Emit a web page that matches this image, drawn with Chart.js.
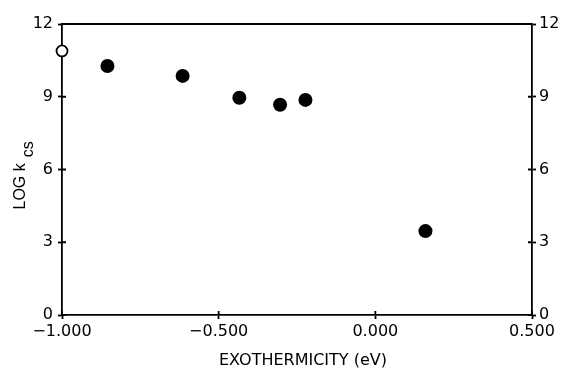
<!DOCTYPE html>
<html>
<head>
<meta charset="utf-8">
<script src="https://cdn.jsdelivr.net/npm/chart.js@4.4.0/dist/chart.umd.min.js"></script>
<style>
    html, body { margin: 0; padding: 0; background: #fff; }
    #wrap { width: 562px; height: 372px; }
</style>
</head>
<body>
<div id="wrap"><canvas id="chart"></canvas></div>
<script>
// log k_cs vs exothermicity (eV)
const filledX = [-0.855, -0.615, -0.434, -0.304, -0.223, 0.160];
const filledY = [10.27, 9.86, 8.96, 8.67, 8.87, 3.46];
const openX = [-1.000];
const openY = [10.89];

const xTickValues = [-1.0, -0.5, 0.0, 0.5];
const xTickLabels = ['\u22121.000', '\u22120.500', '0.000', '0.500'];
const yTickValues = [0, 3, 6, 9, 12];
const yTickLabels = ['0', '3', '6', '9', '12'];

const xTitle = 'EXOTHERMICITY (eV)';

const tickFont = { family: "'DejaVu Sans', sans-serif", size: 16 };
const tickLen = 4;
const axisWidth = 1.8;

const toPoints = (xs, ys) => xs.map((x, i) => ({ x: x, y: ys[i] }));

// frame on top + inward half of the crossing ticks
const framePlugin = {
    id: 'frame',
    beforeDatasetsDraw(chart) {
        const { ctx, chartArea: a, scales } = chart;
        ctx.save();
        ctx.strokeStyle = '#000';
        ctx.lineWidth = axisWidth;
        ctx.beginPath();
        ctx.moveTo(a.left, a.top);
        ctx.lineTo(a.right, a.top);
        scales.x.ticks.forEach(t => {
            const px = scales.x.getPixelForValue(t.value);
            ctx.moveTo(px, a.bottom);
            ctx.lineTo(px, a.bottom - tickLen);
        });
        scales.y.ticks.forEach(t => {
            const py = scales.y.getPixelForValue(t.value);
            ctx.moveTo(a.left, py);
            ctx.lineTo(a.left + tickLen, py);
        });
        scales.y2.ticks.forEach(t => {
            const py = scales.y2.getPixelForValue(t.value);
            ctx.moveTo(a.right, py);
            ctx.lineTo(a.right - tickLen, py);
        });
        ctx.stroke();
        ctx.restore();
    }
};

// axis titles (y one is rotated, with subscript)
const titlesPlugin = {
    id: 'titles',
    afterDraw(chart) {
        const { ctx, chartArea: a } = chart;
        const cy = (a.top + a.bottom) / 2;
        ctx.save();
        ctx.fillStyle = '#000';

        ctx.font = "16px 'DejaVu Sans', sans-serif";
        ctx.textAlign = 'center';
        ctx.textBaseline = 'middle';
        ctx.fillText(xTitle, (a.left + a.right) / 2 + 6, 361);

        ctx.translate(25, cy + 40);
        ctx.rotate(-Math.PI / 2);
        ctx.textAlign = 'left';
        ctx.textBaseline = 'alphabetic';
        ctx.font = "16px 'Liberation Sans', sans-serif";
        const main = 'LOG k';
        ctx.fillText(main, 0, 0);
        const w = ctx.measureText(main).width;
        ctx.fillText('cs', w + 6, 8);
        ctx.restore();
    }
};

const yAxis = (pos) => ({
    type: 'linear',
    position: pos,
    min: 0,
    max: 12,
    afterBuildTicks: s => { s.ticks = yTickValues.map(v => ({ value: v })); },
    afterFit: s => { s.width = pos === 'left' ? 62 : 30; },
    grid: { drawOnChartArea: false, drawTicks: true, tickLength: tickLen, tickColor: '#000', tickWidth: axisWidth },
    border: { display: true, color: '#000', width: axisWidth },
    ticks: {
        color: '#000',
        font: tickFont,
        padding: pos === 'left' ? 5 : 3,
        callback: v => yTickLabels[yTickValues.indexOf(v)]
    }
});

new Chart(document.getElementById('chart'), {
    type: 'scatter',
    data: {
        datasets: [
            {
                label: 'filled',
                data: toPoints(filledX, filledY),
                backgroundColor: '#000',
                borderColor: '#000',
                pointRadius: 7,
                borderWidth: 0,
                clip: false
            },
            {
                label: 'open',
                data: toPoints(openX, openY),
                backgroundColor: '#fff',
                borderColor: '#000',
                pointRadius: 5.5,
                borderWidth: 1.8,
                clip: false
            }
        ]
    },
    options: {
        responsive: true,
        maintainAspectRatio: false,
        animation: false,
        layout: { padding: { top: 24, left: 0, right: 0, bottom: 0 } },
        plugins: {
            legend: { display: false },
            tooltip: { enabled: false }
        },
        scales: {
            x: {
                type: 'linear',
                position: 'bottom',
                min: -1.0,
                max: 0.5,
                afterBuildTicks: s => { s.ticks = xTickValues.map(v => ({ value: v })); },
                afterFit: s => { s.height = 57; },
                grid: { drawOnChartArea: false, drawTicks: true, tickLength: tickLen, tickColor: '#000', tickWidth: axisWidth },
                border: { display: true, color: '#000', width: axisWidth },
                ticks: {
                    color: '#000',
                    font: tickFont,
                    padding: 3,
                    maxRotation: 0,
                    autoSkip: false,
                    callback: v => xTickLabels[xTickValues.indexOf(v)]
                }
            },
            y: yAxis('left'),
            y2: yAxis('right')
        }
    },
    plugins: [framePlugin, titlesPlugin]
});
</script>
</body>
</html>
